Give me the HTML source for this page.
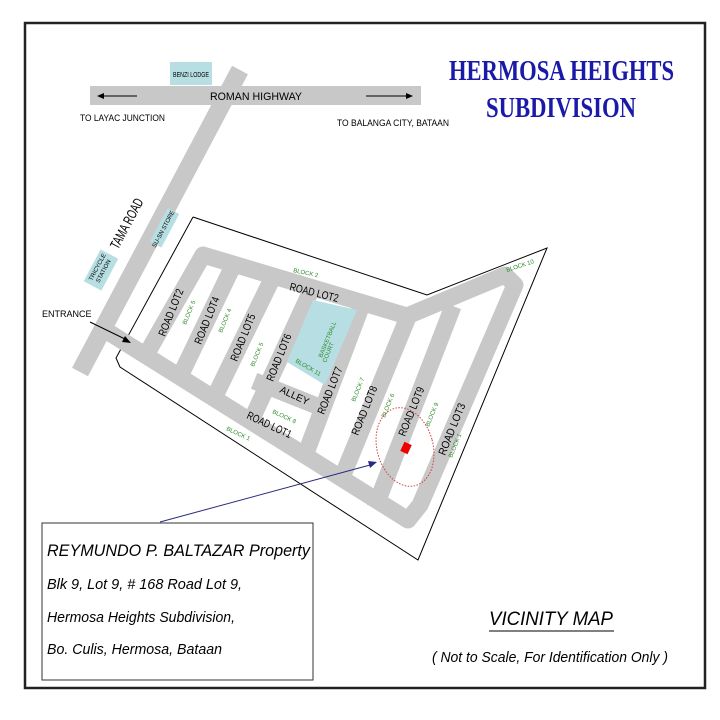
<!DOCTYPE html>
<html><head><meta charset="utf-8"><style>
html,body{margin:0;padding:0;background:#fff;}
svg{display:block;}
</style></head><body>
<svg width="720" height="720" viewBox="0 0 720 720" font-family="Liberation Sans, sans-serif">
<rect x="0" y="0" width="720" height="720" fill="#fff"/>
<rect x="25" y="23" width="680" height="665" fill="none" stroke="#222" stroke-width="2.5"/>

<text x="449" y="80" style="font-family:'Liberation Serif',serif;font-weight:bold" font-size="28" fill="#1a1aa8" textLength="225" lengthAdjust="spacingAndGlyphs">HERMOSA HEIGHTS</text>
<text x="486" y="117" style="font-family:'Liberation Serif',serif;font-weight:bold" font-size="28" fill="#1a1aa8" textLength="150" lengthAdjust="spacingAndGlyphs">SUBDIVISION</text>

<!-- highway -->
<rect x="90" y="86" width="331" height="19" fill="#c8c8c8"/>
<rect x="170" y="62" width="42" height="23" fill="#b7dfe3"/>
<text x="191" y="77" font-size="7" text-anchor="middle" textLength="36" lengthAdjust="spacingAndGlyphs">BENZI LODGE</text>
<line x1="240" y1="70" x2="80" y2="372" stroke="#c8c8c8" stroke-width="18"/>
<text x="256" y="100" font-size="11" text-anchor="middle" textLength="92" lengthAdjust="spacingAndGlyphs">ROMAN HIGHWAY</text>
<line x1="100" y1="96" x2="137" y2="96" stroke="#000"/><polygon points="97,96 104,93 104,99" fill="#000"/>
<line x1="366" y1="96" x2="410" y2="96" stroke="#000"/><polygon points="413,96 406,93 406,99" fill="#000"/>
<text x="80" y="121" font-size="9" textLength="85" lengthAdjust="spacingAndGlyphs">TO LAYAC JUNCTION</text>
<text x="337" y="126" font-size="9" textLength="112" lengthAdjust="spacingAndGlyphs">TO BALANGA CITY, BATAAN</text>

<!-- boundary -->
<polyline points="193,217 427,295 547,248 418,560 120,367 116,358 193,217" fill="none" stroke="#000" stroke-width="1"/>

<!-- roads -->
<g stroke="#c8c8c8" stroke-width="17" fill="none" stroke-linejoin="round" stroke-linecap="square">
<polyline points="105,330 408,520 420,505 515,285 505,275 407,316 203,255 150,348"/>
<line x1="232" y1="268" x2="184" y2="368"/>
<line x1="270" y1="283" x2="218" y2="390"/>
<line x1="309" y1="295" x2="257" y2="408"/>
<line x1="360" y1="310" x2="309" y2="445"/>
<line x1="406" y1="322" x2="345" y2="470"/>
<line x1="450" y1="314" x2="378" y2="500"/>
<line x1="262" y1="384" x2="312" y2="404"/>
</g>
<polygon points="313,300 357,310 325,385 287,362" fill="#b7dfe3"/>

<!-- tama road labels -->
<text transform="translate(118,250) rotate(-62)" font-size="14" textLength="55" lengthAdjust="spacingAndGlyphs">TAMA ROAD</text>
<rect x="-19" y="-7" width="38" height="13" fill="#b7dfe3" transform="translate(165,228) rotate(-62)"/>
<text transform="translate(165,230) rotate(-62)" font-size="6" text-anchor="middle">SU-SN STORE</text>
<rect x="-18" y="-10" width="36" height="20" fill="#b7dfe3" transform="translate(101,270) rotate(-62)"/>
<text transform="translate(99,268) rotate(-62)" font-size="6" text-anchor="middle">TRICYCLE</text>
<text transform="translate(105,272) rotate(-62)" font-size="6" text-anchor="middle">STATION</text>

<text x="42" y="317" font-size="9">ENTRANCE</text>
<line x1="90" y1="322" x2="127" y2="340" stroke="#000"/>
<polygon points="131,343 122,342 125,336" fill="#000"/>

<!-- road labels -->
<g font-size="11" fill="#000">
<text transform="translate(165,337) rotate(-68)" textLength="50" lengthAdjust="spacingAndGlyphs">ROAD LOT2</text>
<text transform="translate(201,345) rotate(-68)" textLength="50" lengthAdjust="spacingAndGlyphs">ROAD LOT4</text>
<text transform="translate(237,362) rotate(-68)" textLength="50" lengthAdjust="spacingAndGlyphs">ROAD LOT5</text>
<text transform="translate(273,382) rotate(-68)" textLength="50" lengthAdjust="spacingAndGlyphs">ROAD LOT6</text>
<text transform="translate(324,415) rotate(-68)" textLength="50" lengthAdjust="spacingAndGlyphs">ROAD LOT7</text>
<text transform="translate(358,436) rotate(-68)" textLength="52" lengthAdjust="spacingAndGlyphs">ROAD LOT8</text>
<text transform="translate(405,437) rotate(-68)" textLength="52" lengthAdjust="spacingAndGlyphs">ROAD LOT9</text>
<text transform="translate(445,456) rotate(-68)" textLength="55" lengthAdjust="spacingAndGlyphs">ROAD LOT3</text>
<text transform="translate(289,290) rotate(14)" textLength="50" lengthAdjust="spacingAndGlyphs">ROAD LOT2</text>
<text transform="translate(246,418) rotate(25)" textLength="48" lengthAdjust="spacingAndGlyphs">ROAD LOT1</text>
<text transform="translate(279,392) rotate(25)" font-size="10">ALLEY</text>
</g>
<g font-size="6" fill="#2a8a2a">
<text transform="translate(293,272) rotate(12)">BLOCK 2</text>
<text transform="translate(507,272) rotate(-18)">BLOCK 10</text>
<text transform="translate(186,325) rotate(-68)">BLOCK 5</text>
<text transform="translate(222,333) rotate(-68)">BLOCK 4</text>
<text transform="translate(254,367) rotate(-68)">BLOCK 5</text>
<text transform="translate(322,358) rotate(-68)">BASKETBALL</text>
<text transform="translate(326,363) rotate(-68)">COURT</text>
<text transform="translate(295,362) rotate(30)">BLOCK 11</text>
<text transform="translate(272,413) rotate(25)">BLOCK 8</text>
<text transform="translate(226,430) rotate(25)">BLOCK 1</text>
<text transform="translate(355,402) rotate(-68)">BLOCK 7</text>
<text transform="translate(385,418) rotate(-68)">BLOCK 6</text>
<text transform="translate(429,427) rotate(-68)">BLOCK 9</text>
<text transform="translate(452,458) rotate(-68)">BLOCK 1</text>
</g>

<!-- property -->
<ellipse cx="405" cy="447" rx="28" ry="40" transform="rotate(-15 405 447)" fill="none" stroke="#d04040" stroke-width="1" stroke-dasharray="1.5,1.5"/>
<rect x="-4" y="-5" width="8" height="10" fill="#e00" transform="translate(406,448) rotate(25)"/>
<line x1="160" y1="522" x2="370" y2="465" stroke="#2a2a80" stroke-width="1"/>
<polygon points="377,462 368,461 370,468" fill="#2a2a80"/>

<rect x="42" y="523" width="271" height="157" fill="#fff" stroke="#333" stroke-width="1"/>
<g font-style="italic" fill="#000">
<text x="47" y="556" font-size="17" textLength="263" lengthAdjust="spacingAndGlyphs">REYMUNDO P. BALTAZAR Property</text>
<text x="47" y="589" font-size="15" textLength="195" lengthAdjust="spacingAndGlyphs">Blk 9, Lot 9,  # 168 Road Lot 9,</text>
<text x="47" y="622" font-size="15" textLength="188" lengthAdjust="spacingAndGlyphs">Hermosa Heights Subdivision,</text>
<text x="47" y="654" font-size="15" textLength="175" lengthAdjust="spacingAndGlyphs">Bo. Culis, Hermosa, Bataan</text>
<text x="489" y="625" font-size="19" textLength="124" lengthAdjust="spacingAndGlyphs">VICINITY  MAP</text>
<text x="432" y="662" font-size="15" textLength="236" lengthAdjust="spacingAndGlyphs">( Not to Scale, For Identification Only )</text>
</g>
<line x1="489" y1="631" x2="614" y2="631" stroke="#000" stroke-width="1"/>
</svg>
</body></html>
